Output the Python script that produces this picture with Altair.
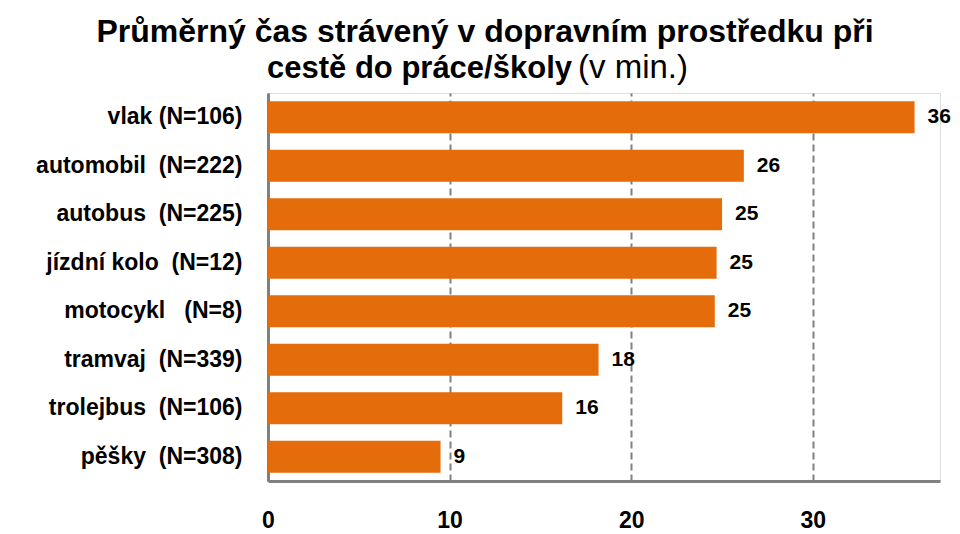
import altair as alt
import pandas as pd

categories = [
    "vlak (N=106)",
    "automobil\u00a0 (N=222)",
    "autobus\u00a0 (N=225)",
    "jízdní kolo\u00a0 (N=12)",
    "motocykl\u00a0\u00a0 (N=8)",
    "tramvaj\u00a0 (N=339)",
    "trolejbus\u00a0 (N=106)",
    "pěšky\u00a0 (N=308)",
]
values = [35.6, 26.2, 25.0, 24.7, 24.6, 18.2, 16.2, 9.5]
value_labels = ["36", "26", "25", "25", "25", "18", "16", "9"]
x_ticks = [0, 10, 20, 30]
title_line1 = "Průměrný čas strávený v dopravním prostředku při"
title_line2_bold = "cestě do práce/školy"
title_line2_normal = "(v min.)"

FONT = "Liberation Sans, Arial, sans-serif"
BAR = "#E46C0A"
GRAY = "#808080"

df = pd.DataFrame({"cat": categories, "value": values, "label": value_labels})

y_enc = alt.Y(
    "cat:N",
    sort=categories,
    scale=alt.Scale(paddingInner=0.34, paddingOuter=0.17),
    axis=alt.Axis(
        title=None,
        labelFont=FONT,
        labelFontSize=23,
        labelFontWeight="bold",
        labelColor="black",
        ticks=False,
        labelPadding=26,
        labelLimit=400,
        domainColor=GRAY,
        domainWidth=3,
    ),
)
x_enc = alt.X(
    "value:Q",
    scale=alt.Scale(domain=[0, 37], nice=False),
    axis=alt.Axis(
        title=None,
        values=x_ticks,
        format="d",
        grid=True,
        gridDash=[7, 4],
        gridColor=GRAY,
        gridWidth=2,
        ticks=False,
        labelFlush=False,
        labelPadding=28,
        labelFont=FONT,
        labelFontSize=23,
        labelFontWeight="bold",
        labelColor="black",
        domainColor=GRAY,
        domainWidth=3,
    ),
)

bars = alt.Chart(df).mark_bar(color=BAR).encode(x=x_enc, y=y_enc)

labels = alt.Chart(df).mark_text(
    align="left", baseline="middle", dx=13, font=FONT, fontSize=21,
    fontWeight="bold", color="black"
).encode(x="value:Q", y=alt.Y("cat:N", sort=categories), text="label:N")

t1 = alt.Chart(pd.DataFrame({"t": [title_line1]})).mark_text(
    align="center", baseline="alphabetic", font=FONT, fontSize=32,
    fontWeight="bold", color="black"
).encode(x=alt.value(217), y=alt.value(-51), text="t:N")

t2a = alt.Chart(pd.DataFrame({"t": [title_line2_bold]})).mark_text(
    align="right", baseline="alphabetic", font=FONT, fontSize=31,
    fontWeight="bold", color="black"
).encode(x=alt.value(304), y=alt.value(-15), text="t:N")

t2b = alt.Chart(pd.DataFrame({"t": [title_line2_normal]})).mark_text(
    align="left", baseline="alphabetic", font=FONT, fontSize=33,
    fontWeight="normal", color="black"
).encode(x=alt.value(310), y=alt.value(-15), text="t:N")

chart = alt.layer(bars, labels, t1, t2a, t2b).properties(
    width=672,
    height=388,
    autosize=alt.AutoSizeParams(type="none"),
    padding={"left": 260, "top": 85, "right": 12, "bottom": 53},
).configure_view(stroke=None).configure(background="white")

chart.save("out.html", embed_options={"renderer": "svg", "actions": False})
